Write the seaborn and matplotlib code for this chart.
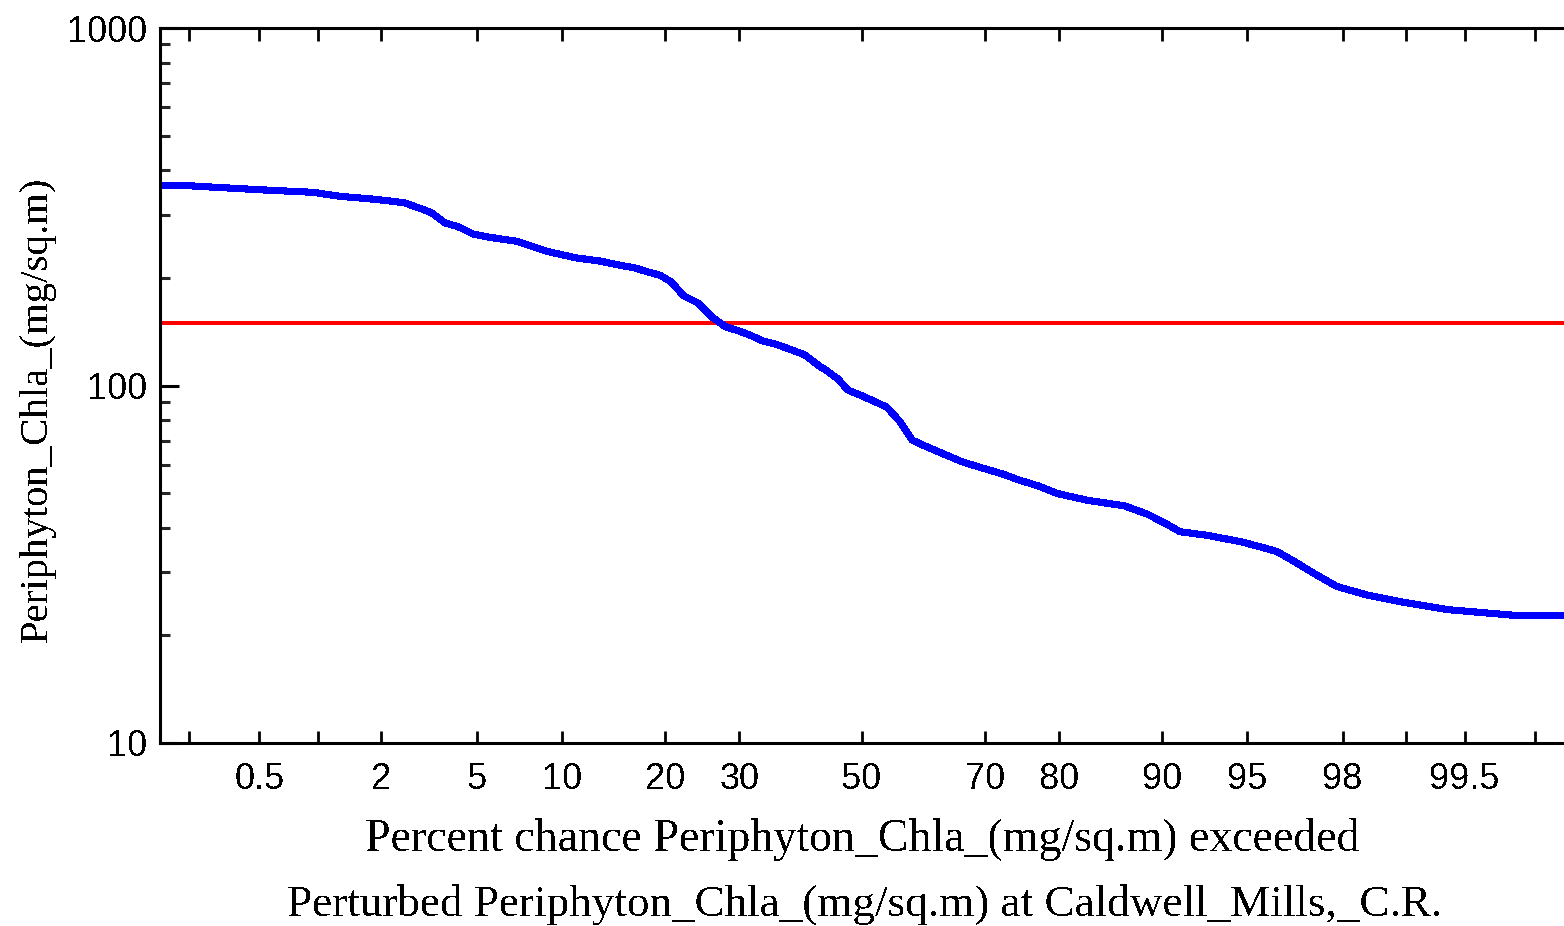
import numpy as np
import pandas as pd
import matplotlib
matplotlib.use("Agg")
import matplotlib.pyplot as plt
import seaborn as sns
from matplotlib import font_manager
from matplotlib.ticker import FixedLocator, NullLocator, LogLocator, NullFormatter
from statistics import NormalDist

# Exceedance curve: percent chance exceeded vs. periphyton chlorophyll-a (mg/sq.m)
exceed_pct = [0.135, 0.199, 0.504, 0.949, 1.285, 1.88, 2.52, 3.00, 3.30, 3.74,
              4.22, 4.83, 5.59, 7.02, 8.91, 9.84, 11.16, 13.14, 15.06, 16.60,
              18.01, 19.40, 20.72, 22.33, 24.17, 26.08, 27.92, 29.95, 31.31, 33.46,
              35.83, 38.25, 40.36, 42.54, 44.24, 45.90, 47.61, 49.64, 52.22, 54.26,
              56.45, 58.46, 60.45, 63.04, 66.53, 69.74, 72.67, 74.89, 77.40, 79.76,
              83.30, 86.86, 88.84, 90.23, 91.29, 92.98, 94.69, 95.55, 96.20, 96.79,
              97.33, 97.88, 98.47, 98.95, 99.39, 99.75, 99.865]
chla = [362.1, 362.1, 352.8, 347.0, 338.2, 331.7, 324.6, 311.7, 303.8, 284.8,
        278.1, 265.3, 259.7, 253.1, 237.4, 232.8, 227.3, 222.9, 216.9, 213.2,
        207.8, 203.4, 195.1, 178.0, 170.2, 155.4, 146.2, 142.0, 139.1, 133.5,
        130.1, 125.7, 121.7, 114.1, 109.3, 104.3, 97.1, 94.1, 90.1, 86.9,
        79.2, 70.4, 67.9, 65.0, 61.2, 58.7, 56.5, 54.4, 52.4, 49.9,
        47.7, 46.1, 43.7, 41.2, 39.0, 38.1, 36.6, 35.4, 34.3, 32.1,
        29.8, 27.4, 25.9, 24.8, 23.6, 22.7, 22.7]

threshold = 150

x_tick_pct = [0.2, 0.5, 1, 2, 5, 10, 20, 30, 50, 70, 80, 90, 95, 98, 99, 99.5, 99.8]
x_tick_text = ["", "0.5", "", "2", "5", "10", "20", "30", "50", "70", "80",
               "90", "95", "98", "", "99.5", ""]
y_ticks = [10, 100, 1000]
y_tick_text = ["10", "100", "1000"]

x_label = "Percent chance Periphyton_Chla_(mg/sq.m) exceeded"
y_label = "Periphyton_Chla_(mg/sq.m)"
title = "Perturbed Periphyton_Chla_(mg/sq.m) at Caldwell_Mills,_C.R."

df = pd.DataFrame({"exceed": exceed_pct, "chla": chla})


def have_font(name):
    try:
        font_manager.findfont(name, fallback_to_default=False)
        return True
    except Exception:
        return False


num_font = "Liberation Sans Narrow" if have_font("Liberation Sans Narrow") else "Liberation Sans"
num_size = 30 if num_font == "Liberation Sans Narrow" else 26
serif_font = "Liberation Serif"

# Normal-probability axis built from the standard normal distribution
_nd = NormalDist()


def _ppf(p):
    if not np.isfinite(p):
        return np.nan
    p = min(max(p / 100.0, 1e-12), 1 - 1e-12)
    return _nd.inv_cdf(p)


def _cdf(z):
    if np.isnan(z):
        return np.nan
    return _nd.cdf(z) * 100.0


prob_fwd = np.vectorize(_ppf, otypes=[float])
prob_inv = np.vectorize(_cdf, otypes=[float])

sns.set_style("ticks")
plt.rcParams["text.antialiased"] = False

W, H = 1564, 926
fig = plt.figure(figsize=(W / 100, H / 100), dpi=100)
ax = fig.add_axes([160 / W, (H - 743) / H, (W - 160) / W, 715 / H])

ax.set_xscale("function", functions=(prob_fwd, prob_inv))
ax.set_yscale("log")

sns.lineplot(data=df, x="exceed", y="chla", ax=ax, color="#0000ff",
             linewidth=4.4, estimator=None, sort=False, antialiased=False)
ax.axhline(threshold, color="#ff0000", linewidth=1.6, antialiased=False, zorder=1)

ax.set_xlim(_cdf(-3.0), _cdf(3.0))
ax.set_ylim(10, 1000)

ax.xaxis.set_major_locator(FixedLocator(x_tick_pct))
ax.xaxis.set_minor_locator(NullLocator())
ax.set_xticklabels(x_tick_text, fontfamily=num_font, fontsize=num_size)
ax.yaxis.set_major_locator(FixedLocator(y_ticks))
ax.yaxis.set_minor_locator(LogLocator(base=10, subs=np.arange(2, 10)))
ax.yaxis.set_minor_formatter(NullFormatter())
ax.set_yticklabels(y_tick_text, fontfamily=num_font, fontsize=num_size)

ax.tick_params(axis="x", which="major", direction="in", length=9, width=2.0,
               top=True, bottom=True, pad=14, colors="black")
ax.tick_params(axis="y", which="major", direction="in", length=14, width=2.2,
               left=True, right=False, pad=9, colors="black")
ax.tick_params(axis="y", which="minor", direction="in", length=7, width=2.2,
               left=True, right=False)

for side in ("left", "top", "bottom"):
    ax.spines[side].set_linewidth(2.2)
    ax.spines[side].set_color("black")
ax.spines["right"].set_visible(False)
ax.set_xlabel("")
ax.set_ylabel("")

fig.text(862 / W, 1 - 851 / H, x_label, ha="center", va="baseline",
         fontfamily=serif_font, fontsize=33, color="black")
fig.text(865 / W, 1 - 916 / H, title, ha="center", va="baseline",
         fontfamily=serif_font, fontsize=32.5, color="black")
fig.text(37 / W, 1 - 409 / H, y_label, ha="center", va="center", rotation=90,
         fontfamily=serif_font, fontsize=29.3, color="black")

fig.savefig("out.png", dpi=100, facecolor="white")
